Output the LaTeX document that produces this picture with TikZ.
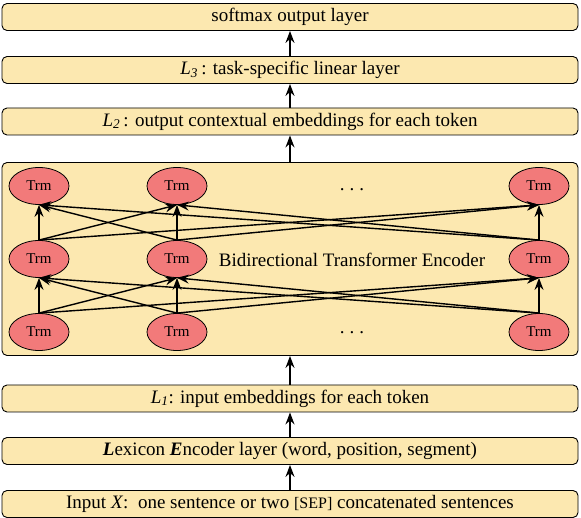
\documentclass[tikz,border=0pt]{standalone}
\usepackage{fontspec}
\setmainfont{Liberation Serif}
\usetikzlibrary{arrows.meta,shapes.geometric}
\definecolor{boxfill}{RGB}{252,232,176}
\definecolor{trmfill}{RGB}{242,122,122}
\begin{document}
\begin{tikzpicture}[x=1pt,y=-1pt,
  layer/.style={draw, line width=0.9pt, rounded corners=5pt, fill=boxfill,
    minimum width=576pt, minimum height=27pt, inner sep=0pt,
    font=\fontsize{19}{22}\selectfont},
  trm/.style={draw, ellipse, fill=trmfill, line width=0.8pt,
    minimum width=60pt, minimum height=37pt, inner sep=0pt,
    font=\fontsize{15}{17}\selectfont},
  up/.style={-{Stealth[length=12pt,width=9pt,inset=4pt]}, line width=1.3pt},
  link/.style={-{Stealth[length=12pt,width=9pt,inset=4pt]}, line width=1.4pt},
  lbl/.style={font=\fontsize{19}{22}\selectfont, inner sep=0pt},
  dotsnode/.style={font=\fontsize{19}{22}\selectfont, inner sep=0pt}
]
\useasboundingbox (0,0) rectangle (581,518);

\node[layer] (soft) at (290,17) {softmax output layer};
\node[layer] (l3) at (290,70) {\textit{L}\textsubscript{\textit{3}}\,: task-specific linear layer};
\node[layer] (l2) at (290,121.5) {\textit{L}\textsubscript{\textit{2}}\,: output contextual embeddings for each token};
\node[layer, minimum height=193pt] (enc) at (290,259) {};
\node[layer] (l1) at (290,398.5) {\textit{L}\textsubscript{\textit{1}}: input embeddings for each token};
\node[layer] (lex) at (290,451) {\textbf{\textit{L}}exicon \textbf{\textit{E}}ncoder layer (word, position, segment)};
\node[layer] (inp) at (290,504) {Input \textit{X}:\ \ one sentence or two {\fontsize{16}{18}\selectfont[SEP]} concatenated sentences};

\draw[up] (l3.north) -- (soft.south);
\draw[up] (l2.north) -- (l3.south);
\draw[up] (enc.north) -- (l2.south);
\draw[up] (l1.north) -- (enc.south);
\draw[up] (lex.north) -- (l1.south);
\draw[up] (inp.north) -- (lex.south);

\node[lbl] (title) at (352,260) {Bidirectional Transformer Encoder};
\node[dotsnode] (dt) at (352,190) {.\hspace{5pt}.\hspace{5pt}.};
\node[dotsnode] (db) at (352,333) {.\hspace{5pt}.\hspace{5pt}.};

\foreach \r/\y in {1/332,2/259,3/186}{
  \foreach \c/\x in {1/39,2/177,3/539}{
    \node[trm] (t\r\c) at (\x,\y) {Trm};
  }
}
\foreach \r/\s in {1/2,2/3}{
  \foreach \i in {1,2,3}{
    \foreach \j in {1,2,3}{
      \draw[link] (t\r\i.north) -- (t\s\j.south);
    }
  }
}
\end{tikzpicture}
\end{document}
